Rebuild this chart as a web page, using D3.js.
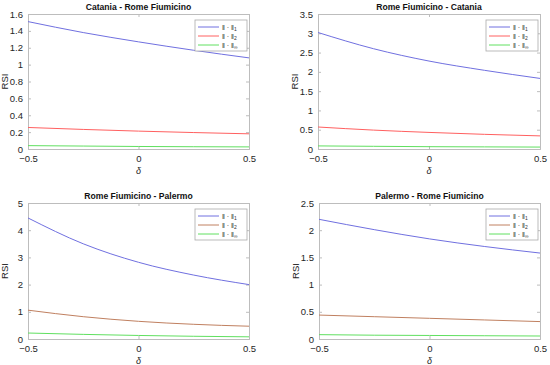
<!DOCTYPE html>
<html>
<head>
<meta charset="utf-8">
<script src="https://cdn.jsdelivr.net/npm/d3@7"></script>
<style>
  body { margin: 0; background: #fff; }
  svg { font-family: "Liberation Sans", Arial, sans-serif; }
  .tick text { fill: #262626; font-size: 9.5px; }
</style>
</head>
<body>
<svg id="chart" width="550" height="365"></svg>
<script>
// delta values on the x axis
const deltas = [-0.5, -0.25, 0, 0.25, 0.5];

const titles = ['Catania - Rome Fiumicino', 'Rome Fiumicino - Catania', 'Rome Fiumicino - Palermo', 'Palermo - Rome Fiumicino'];
const yMax = [1.6, 3.5, 5, 2.5];
const yTicks = [
  [0, 0.2, 0.4, 0.6, 0.8, 1, 1.2, 1.4, 1.6],
  [0, 0.5, 1, 1.5, 2, 2.5, 3, 3.5],
  [0, 1, 2, 3, 4, 5],
  [0, 0.5, 1, 1.5, 2, 2.5]
];
const xTicks = [-0.5, 0, 0.5];

// RSI per norm, one array per panel
const norm1 = [
  [1.51, 1.38, 1.27, 1.17, 1.08],
  [3.02, 2.60, 2.28, 2.04, 1.83],
  [4.45, 3.50, 2.82, 2.35, 2.00],
  [2.20, 2.01, 1.84, 1.70, 1.58]
];
const norm2 = [
  [0.255, 0.232, 0.212, 0.195, 0.18],
  [0.57, 0.49, 0.43, 0.38, 0.34],
  [1.06, 0.82, 0.65, 0.54, 0.47],
  [0.44, 0.41, 0.38, 0.35, 0.32]
];
const normInf = [
  [0.04, 0.035, 0.03, 0.027, 0.025],
  [0.08, 0.07, 0.06, 0.055, 0.05],
  [0.22, 0.17, 0.13, 0.10, 0.08],
  [0.08, 0.07, 0.065, 0.06, 0.055]
];
const legendSubs = ['1', '2', '∞'];

// where each panel's axes box sits
const boxes = [
  { x: 28, y: 14, w: 221, h: 135 },
  { x: 318, y: 14, w: 222, h: 135 },
  { x: 28, y: 203, w: 221, h: 136 },
  { x: 319, y: 203, w: 221, h: 136 }
];
const topColors = ['#7070e0', '#ff6060', '#60e060'];
const bottomColors = ['#7070e0', '#c08060', '#60e060'];

const svg = d3.select('#chart');

titles.forEach((title, i) => {
  const b = boxes[i];
  const colors = i < 2 ? topColors : bottomColors;
  const g = svg.append('g').attr('transform', `translate(${b.x},${b.y})`);

  const x = d3.scaleLinear().domain([-0.5, 0.5]).range([0, b.w]);
  const y = d3.scaleLinear().domain([0, yMax[i]]).range([b.h, 0]);

  // inward ticks, MATLAB style, on all four sides
  const left = g.append('g').call(d3.axisLeft(y).tickValues(yTicks[i]).tickSize(-3).tickPadding(5).tickFormat(d3.format('')));
  const right = g.append('g').attr('transform', `translate(${b.w},0)`)
    .call(d3.axisRight(y).tickValues(yTicks[i]).tickSize(-3).tickFormat(''));
  const bottom = g.append('g').attr('transform', `translate(0,${b.h})`)
    .call(d3.axisBottom(x).tickValues(xTicks).tickSize(-3).tickPadding(6).tickFormat(d => d < 0 ? '\u2212' + Math.abs(d) : d3.format('')(d)));
  const top = g.append('g').call(d3.axisTop(x).tickValues(xTicks).tickSize(-3).tickFormat(''));
  [left, right, bottom, top].forEach(a => {
    a.select('.domain').attr('stroke', '#bdbdbd');
    a.selectAll('.tick line').attr('stroke', '#bdbdbd');
  });

  const line = d3.line().x((d, j) => x(deltas[j])).y(d => y(d)).curve(d3.curveMonotoneX);
  [norm1[i], norm2[i], normInf[i]].forEach((vals, k) => {
    g.append('path').attr('d', line(vals)).attr('fill', 'none')
      .attr('stroke', colors[k]).attr('stroke-width', 1);
  });

  g.append('text').attr('x', b.w / 2).attr('y', -4).attr('text-anchor', 'middle')
    .attr('font-size', 8.6).attr('font-weight', 'bold').attr('fill', '#111').text(title);
  g.append('text').attr('transform', `translate(-20,${b.h / 2}) rotate(-90)`)
    .attr('text-anchor', 'middle').attr('font-size', 9.5).attr('fill', '#262626').text('RSI');
  g.append('text').attr('x', b.w / 2).attr('y', b.h + 24.5).attr('text-anchor', 'middle')
    .attr('font-size', 9).attr('font-style', 'italic').attr('fill', '#262626').text('δ');

  // legend
  const lg = g.append('g').attr('transform', `translate(${b.w - 54},6)`);
  lg.append('rect').attr('width', 52).attr('height', 31).attr('fill', '#fff').attr('stroke', '#aaa').attr('stroke-width', 0.8);
  legendSubs.forEach((s, k) => {
    const ly = 7 + k * 9;
    lg.append('line').attr('x1', 3).attr('x2', 24).attr('y1', ly).attr('y2', ly)
      .attr('stroke', colors[k]).attr('stroke-width', 1);
    const t = lg.append('text').attr('x', 27).attr('y', ly + 2.5).attr('font-size', 7).attr('fill', '#333');
    t.append('tspan').text('‖ · ‖');
    t.append('tspan').attr('font-size', 5).attr('dy', 1.5).text(s);
  });
});
</script>
</body>
</html>
